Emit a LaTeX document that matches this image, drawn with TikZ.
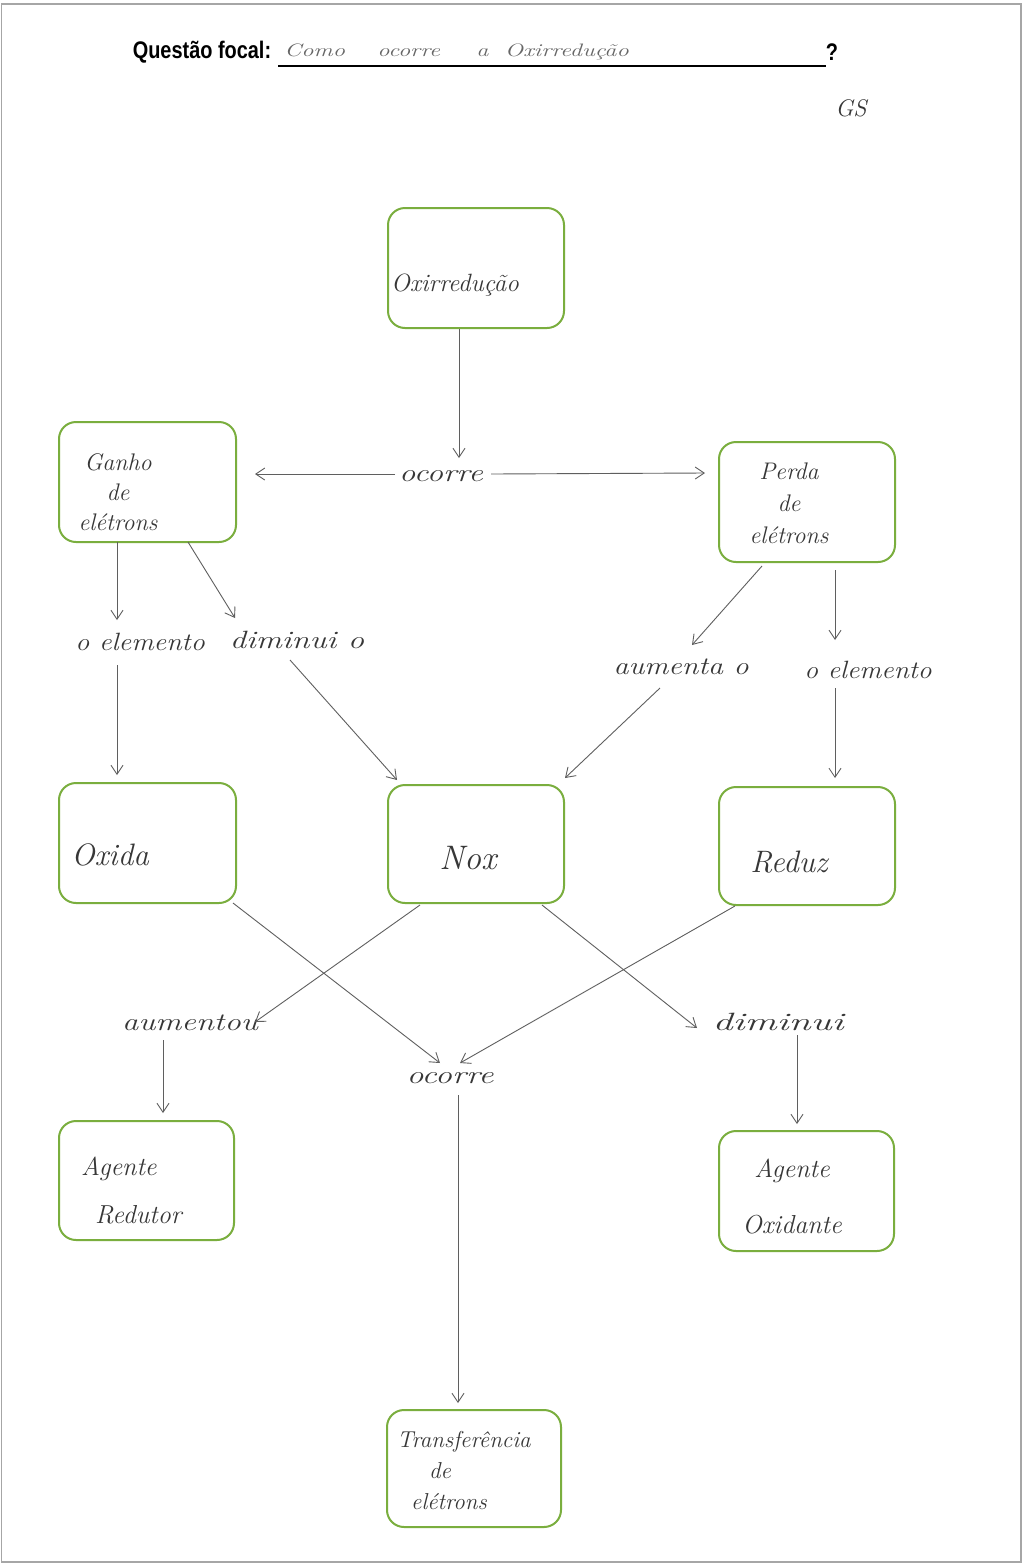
\documentclass[tikz,border=0pt]{standalone}
\usepackage{fontspec}
\newfontfamily\headfont{Liberation Sans}
\usetikzlibrary{arrows.meta,calc}
\definecolor{boxgreen}{RGB}{122,174,62}
\definecolor{ink}{RGB}{55,55,55}
\definecolor{linegray}{RGB}{95,95,95}
\begin{document}
\begin{tikzpicture}[x=1pt,y=-1pt,
  conceptbox/.style={draw=boxgreen,line width=2pt,rounded corners=17pt,
    minimum width=#1,minimum height=120pt,inner sep=0pt},
  hand/.style={text=ink,font=\fontsize{24}{30}\selectfont\itshape,inner sep=1pt},
  bighand/.style={text=ink,font=\fontsize{31}{36}\selectfont\itshape,inner sep=1pt},
  linktext/.style={text=ink,font=\fontsize{25}{28}\selectfont\itshape,inner sep=1pt,xscale=#1},
  linktext/.default=1.2,
  link/.style={draw=linegray,line width=0.9pt,-{Straight Barb[length=9pt,width=12pt]}}]
\useasboundingbox (0,0) rectangle (1023,1564);
\fill[white] (0,0) rectangle (1023,1564);
% sheet edge
\draw[gray!70,line width=1.5pt] (1.5,4) rectangle (1021,1562);

% focal question heading
\node[font=\headfont\bfseries\fontsize{24}{26}\selectfont,xscale=0.83,inner sep=0pt] (qlabel) at (202,52) {Questão focal:};
\node[font=\headfont\bfseries\fontsize{24}{26}\selectfont,xscale=0.83,inner sep=0pt] (qmark) at (832,52) {?};
\coordinate (ulstart) at (278,66);
\coordinate (ulend) at (826,66);
\draw[line width=2.2pt] (ulstart) -- (ulend);
\node[text=gray!80!black,font=\fontsize{18}{20}\selectfont\itshape,xscale=1.35,anchor=west,inner sep=0pt] (question) at (284,52)
  {Como\hspace{24pt}ocorre\hspace{27pt}a\hspace{12pt}Oxirredução};
\node[text=ink,font=\fontsize{24}{28}\selectfont\itshape,inner sep=0pt] (initials) at (851,108) {GS};

% concept boxes
\node[conceptbox=176pt] (oxi) at (476,268) {};
\node[conceptbox=177pt] (ganho) at (147.5,482) {};
\node[conceptbox=176pt] (perda) at (807,502) {};
\node[conceptbox=177pt] (oxida) at (147.5,843) {};
\node[conceptbox=176pt,minimum height=118pt] (nox) at (476,844) {};
\node[conceptbox=176pt,minimum height=118pt] (reduz) at (807,846) {};
\node[conceptbox=175pt,minimum height=119pt] (redutor) at (146.5,1180.5) {};
\node[conceptbox=175pt] (oxidante) at (806.5,1191) {};
\node[conceptbox=174pt,minimum height=117pt] (transf) at (474,1468.5) {};

% texts inside the boxes
\node[hand,anchor=west,font=\fontsize{25}{30}\selectfont\itshape] (oxi-t) at (390,285) {Oxirredução};
\node[hand,align=center,font=\fontsize{24}{30}\selectfont\itshape] (ganho-t) at (118,492) {Ganho\\de\\elétrons};
\node[hand,align=center,font=\fontsize{24}{32}\selectfont\itshape] (perda-t) at (789,503) {Perda\\de\\elétrons};
\node[bighand] (oxida-t) at (110,855) {Oxida};
\node[bighand,font=\fontsize{34}{36}\selectfont\itshape] (nox-t) at (468,858) {Nox};
\node[bighand] (reduz-t) at (789,862) {Reduz};
\node[hand,align=left,anchor=west,font=\fontsize{26}{48}\selectfont\itshape] (redutor-t) at (80,1190) {Agente\\\hspace*{14pt}Redutor};
\node[hand,align=center,font=\fontsize{26}{56}\selectfont\itshape] (oxidante-t) at (792,1196) {Agente\\Oxidante};
\node[hand,align=left,anchor=west,font=\fontsize{23}{31}\selectfont\itshape] (transf-t) at (396,1470) {Transferência\\\hspace*{32pt}de\\\hspace*{14pt}elétrons};

% linking words
\node[linktext=1.3] (oc1) at (441,476) {ocorre};
\node[linktext=1.12] (el1) at (140,642) {o elemento};
\node[linktext=1.3] (dim1) at (297,640) {diminui o};
\node[linktext=1.2] (aum1) at (681,667) {aumenta o};
\node[linktext=1.1] (el2) at (868,670) {o elemento};
\node[linktext=1.3] (aum2) at (190,1023) {aumentou};
\node[linktext=1.35] (oc2) at (450,1078) {ocorre};
\node[linktext=1.6] (dim2) at (778,1022) {diminui};

% connectors
\draw[link] ($(oxi.south)+(-17,0)$) -- ($(oc1.center)+(18,-18)$);
\draw[link] ($(oc1.center)+(-46,-2)$) -- ($(ganho.center)+(107.5,-8)$);
\draw[link] ($(oc1.center)+(50,-2)$) -- ($(perda.center)+(-102,-29)$);
\draw[link] ($(ganho.center)+(-30.5,60)$) -- ($(el1.center)+(-23,-22)$);
\draw[link] ($(el1.center)+(-23,23)$) -- ($(oxida.center)+(-30.5,-68)$);
\draw[link] ($(ganho.center)+(40.5,60)$) -- ($(dim1.center)+(-62,-22)$);
\draw[link] ($(dim1.center)+(-7,20)$) -- ($(nox.center)+(-79,-64)$);
\draw[link] ($(perda.center)+(-45,64)$) -- ($(aum1.center)+(11,-22)$);
\draw[link] ($(aum1.center)+(-21,21)$) -- ($(nox.center)+(89,-66)$);
\draw[link] ($(perda.center)+(28,68)$) -- ($(el2.center)+(-33,-30)$);
\draw[link] ($(el2.center)+(-33,18)$) -- ($(reduz.center)+(28,-68)$);
\draw[link] ($(oxida.center)+(85.5,60)$) -- ($(oc2.center)+(-10,-15)$);
\draw[link] ($(nox.center)+(-56,61)$) -- ($(aum2.center)+(65,-1)$);
\draw[link] ($(nox.center)+(66,61)$) -- ($(dim2.center)+(-81,6)$);
\draw[link] ($(reduz.center)+(-72,60)$) -- ($(oc2.center)+(10,-15)$);
\draw[link] ($(aum2.center)+(-27,17)$) -- ($(redutor.center)+(16.5,-67.5)$);
\draw[link] ($(dim2.center)+(19,13)$) -- ($(oxidante.center)+(-9.5,-67)$);
\draw[link] ($(oc2.center)+(8,17)$) -- ($(transf.center)+(-16,-65.5)$);
\end{tikzpicture}
\end{document}
